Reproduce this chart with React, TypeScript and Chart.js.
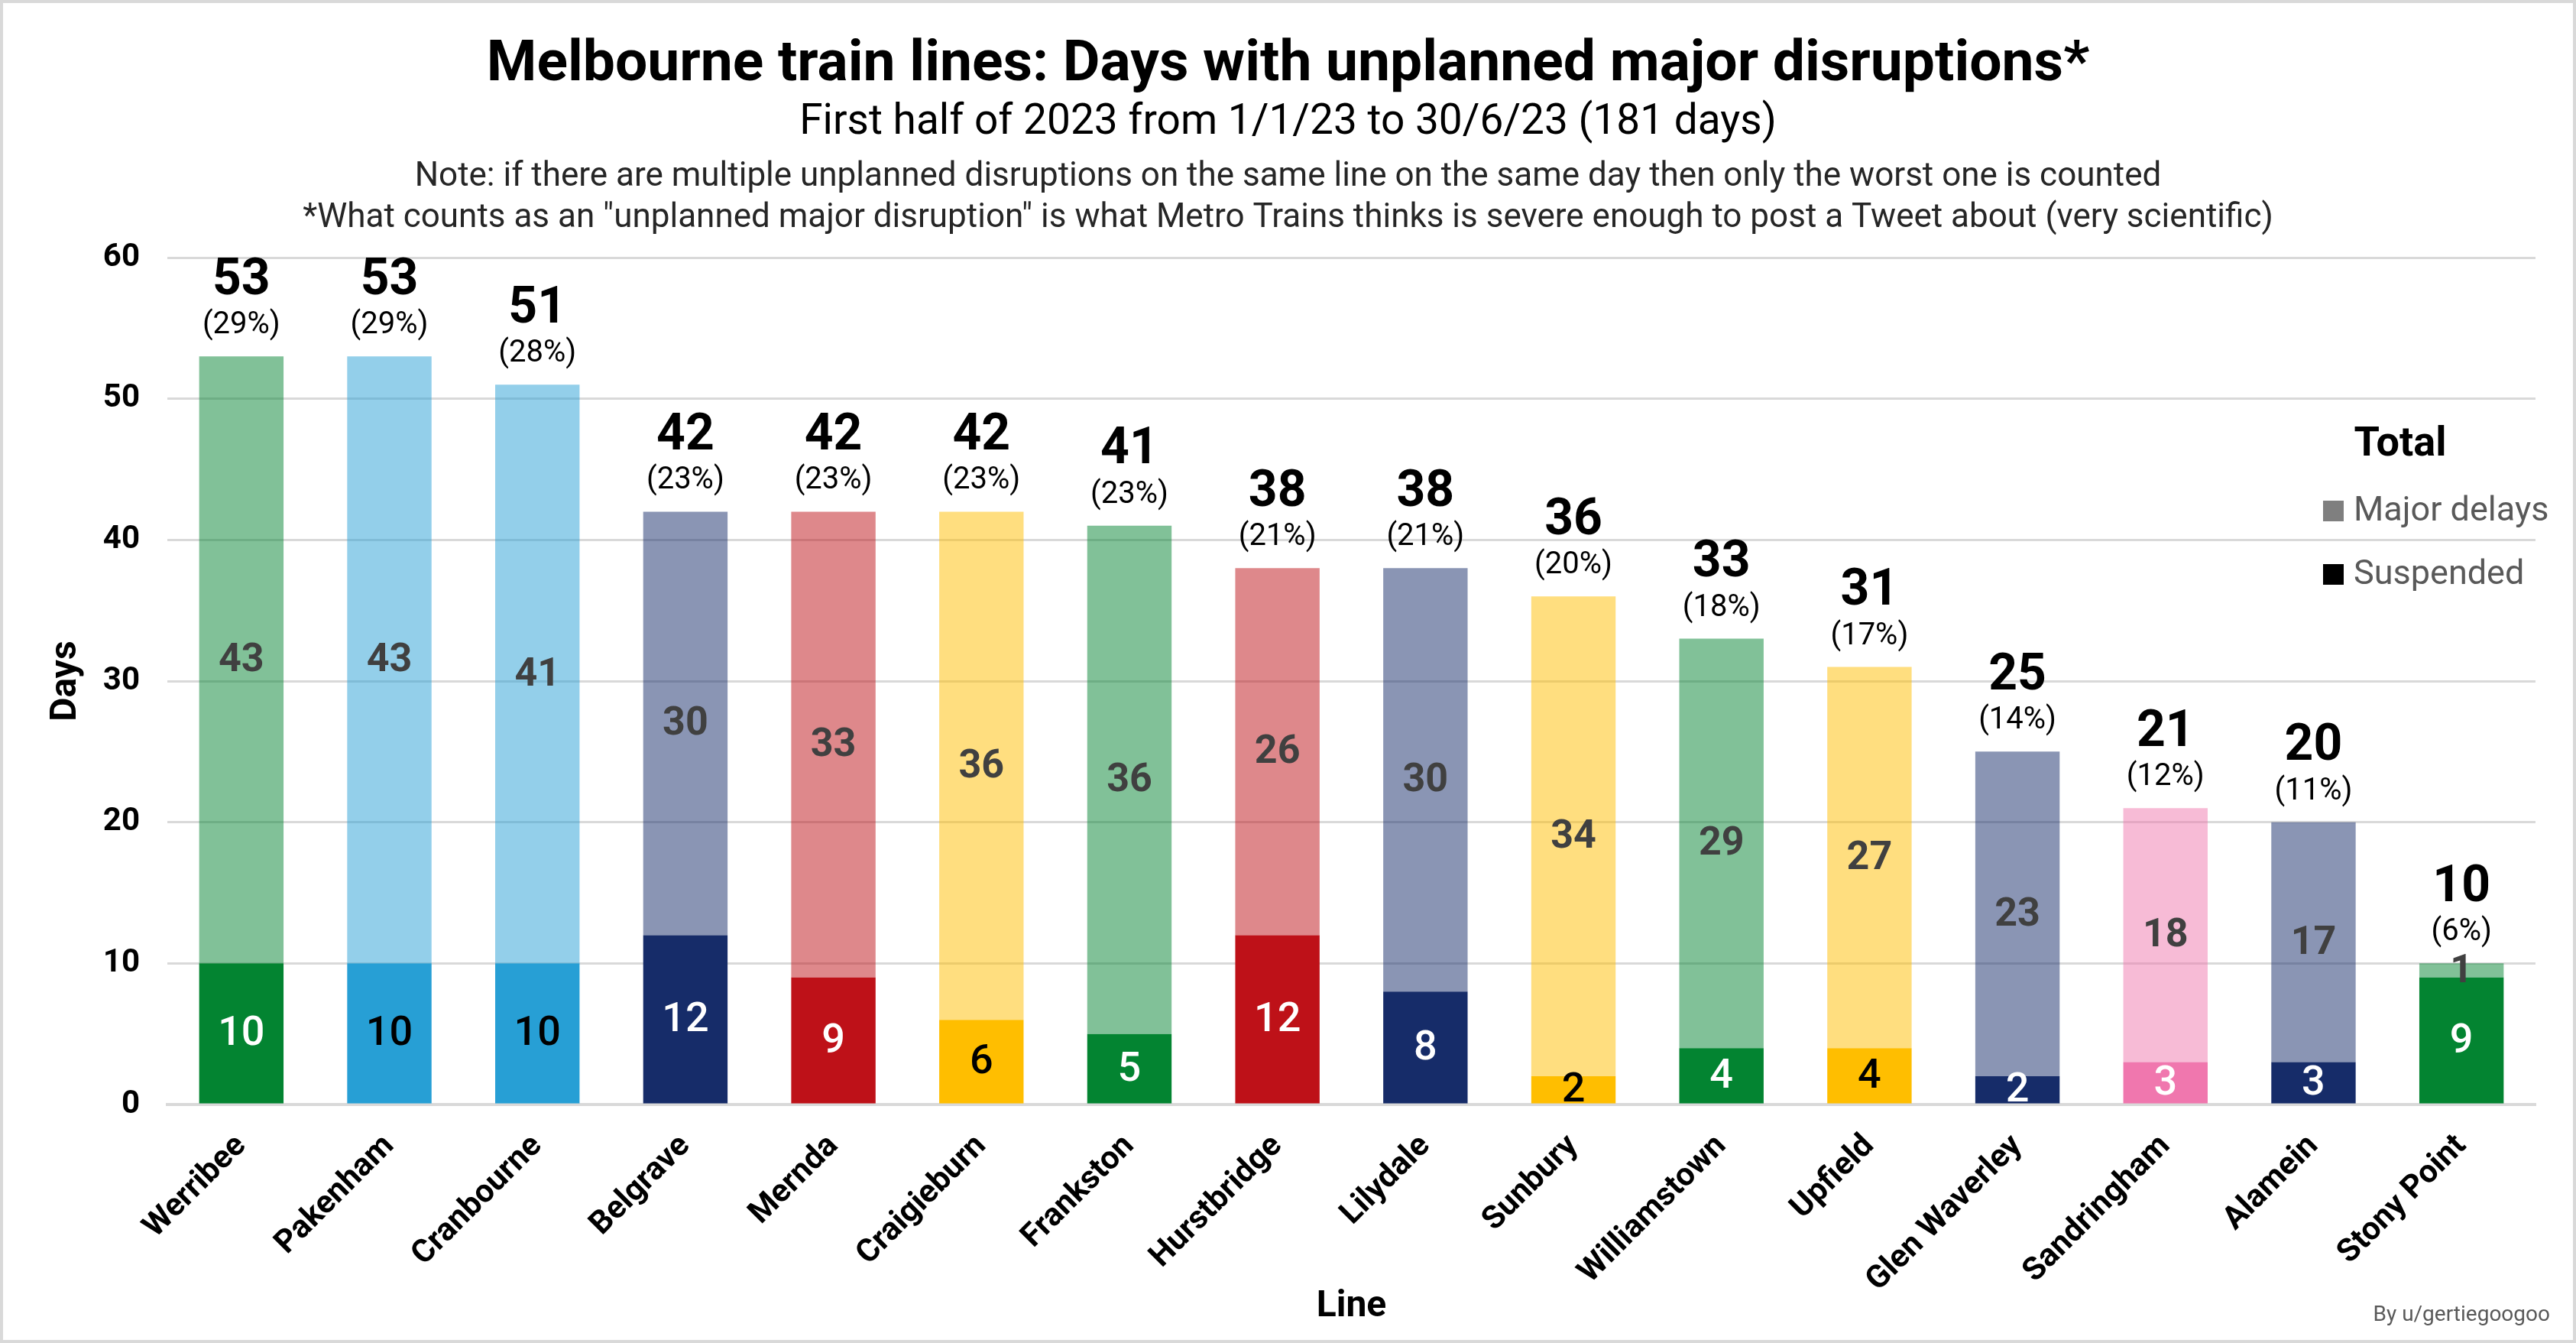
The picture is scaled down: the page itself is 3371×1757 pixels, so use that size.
import React, { useEffect, useRef } from "react";
import { Chart, registerables } from "chart.js";

Chart.register(...registerables);

// ---------- data ----------
const lines = [
  "Werribee", "Pakenham", "Cranbourne", "Belgrave", "Mernda", "Craigieburn",
  "Frankston", "Hurstbridge", "Lilydale", "Sunbury", "Williamstown", "Upfield",
  "Glen Waverley", "Sandringham", "Alamein", "Stony Point",
];
const suspended = [10, 10, 10, 12, 9, 6, 5, 12, 8, 2, 4, 4, 2, 3, 3, 9];
const majorDelays = [43, 43, 41, 30, 33, 36, 36, 26, 30, 34, 29, 27, 23, 18, 17, 1];
const totals = [53, 53, 51, 42, 42, 42, 41, 38, 38, 36, 33, 31, 25, 21, 20, 10];
const percentLabels = [
  "29%", "29%", "28%", "23%", "23%", "23%", "23%", "21%", "21%", "20%",
  "18%", "17%", "14%", "12%", "11%", "6%",
];
const lineGroups = [
  "green", "cyan", "cyan", "navy", "red", "yellow", "green", "red", "navy",
  "yellow", "green", "yellow", "navy", "pink", "navy", "green",
];
const yMax = 60;
const yStep = 10;

// ---------- styles ----------
const groupColor: Record<string, [number, number, number]> = {
  green: [3, 132, 49],
  cyan: [39, 159, 213],
  navy: [22, 44, 105],
  red: [190, 17, 24],
  yellow: [255, 190, 0],
  pink: [240, 119, 174],
};
const groupText: Record<string, string> = {
  green: "#ffffff",
  cyan: "#000000",
  navy: "#ffffff",
  red: "#ffffff",
  yellow: "#000000",
  pink: "#ffffff",
};
const rgba = (c: [number, number, number], a: number) => `rgba(${c[0]},${c[1]},${c[2]},${a})`;
const darkColors = lineGroups.map((g) => rgba(groupColor[g], 1));
const lightColors = lineGroups.map((g) => rgba(groupColor[g], 0.5));
const suspendedTextColors = lineGroups.map((g) => groupText[g]);

const FONT = "Roboto, 'Noto Sans', sans-serif";
const W = 3371;
const H = 1757;

const decorPlugin = {
  id: "decor",
  beforeDraw(chart: any) {
    const ctx = chart.ctx;
    ctx.save();
    ctx.fillStyle = "#ffffff";
    ctx.fillRect(0, 0, W, H);
    ctx.restore();
  },
  afterDraw(chart: any) {
    const ctx = chart.ctx;
    ctx.save();
    // frame
    ctx.strokeStyle = "#d9d9d9";
    ctx.lineWidth = 4;
    ctx.strokeRect(2, 2, W - 4, H - 4);

    ctx.textAlign = "center";
    ctx.textBaseline = "middle";
    ctx.fillStyle = "#000000";
    ctx.font = `bold 75px ${FONT}`;
    ctx.fillText("Melbourne train lines: Days with unplanned major disruptions*", W / 2, 86);
    ctx.font = `55px ${FONT}`;
    ctx.fillText("First half of 2023 from 1/1/23 to 30/6/23 (181 days)", W / 2, 161);
    ctx.fillStyle = "#262626";
    ctx.font = `44px ${FONT}`;
    ctx.fillText(
      "Note: if there are multiple unplanned disruptions on the same line on the same day then only the worst one is counted",
      W / 2, 232);
    ctx.fillText(
      '*What counts as an "unplanned major disruption" is what Metro Trains thinks is severe enough to post a Tweet about (very scientific)',
      W / 2, 286);

    // legend
    ctx.fillStyle = "#000000";
    ctx.font = `bold 54px ${FONT}`;
    ctx.fillText("Total", 3141, 582);
    ctx.textAlign = "left";
    ctx.font = `45px ${FONT}`;
    ctx.fillStyle = "#7f7f7f";
    ctx.fillRect(3040, 655, 27, 27);
    ctx.fillStyle = "#595959";
    ctx.fillText("Major delays", 3080, 670);
    ctx.fillStyle = "#000000";
    ctx.fillRect(3040, 738, 27, 27);
    ctx.fillStyle = "#595959";
    ctx.fillText("Suspended", 3080, 753);

    // credit
    ctx.textAlign = "right";
    ctx.font = `28px ${FONT}`;
    ctx.fillStyle = "#595959";
    ctx.fillText("By u/gertiegoogoo", 3337, 1721);
    ctx.restore();
  },
};

const labelPlugin = {
  id: "barLabels",
  afterDatasetsDraw(chart: any) {
    const ctx = chart.ctx;
    const m0 = chart.getDatasetMeta(0);
    const m1 = chart.getDatasetMeta(1);
    ctx.save();
    ctx.textAlign = "center";
    ctx.textBaseline = "middle";
    m0.data.forEach((bar: any, i: number) => {
      const { x, y, base } = bar.getProps(["x", "y", "base"], true);
      ctx.font = `500 54px ${FONT}`;
      ctx.fillStyle = suspendedTextColors[i];
      ctx.fillText(String(suspended[i]), x, (y + base) / 2 + 2);
    });
    m1.data.forEach((bar: any, i: number) => {
      const { x, y, base } = bar.getProps(["x", "y", "base"], true);
      ctx.font = `bold 52px ${FONT}`;
      ctx.fillStyle = "#404040";
      ctx.fillText(String(majorDelays[i]), x, (y + base) / 2 + 2);
      ctx.fillStyle = "#000000";
      ctx.font = `bold 66px ${FONT}`;
      ctx.fillText(String(totals[i]), x, y - 98);
      ctx.font = `40px ${FONT}`;
      ctx.fillText(`(${percentLabels[i]})`, x, y - 40);
    });
    ctx.restore();
  },
};

export default function App() {
  const ref = useRef<HTMLCanvasElement | null>(null);
  useEffect(() => {
    if (!ref.current) return;
    const chart = new Chart(ref.current, {
      type: "bar",
      data: {
        labels: lines,
        datasets: [
          {
            label: "Suspended",
            data: suspended,
            backgroundColor: darkColors,
            borderWidth: 0,
            barPercentage: 0.57,
            categoryPercentage: 1,
          },
          {
            label: "Major delays",
            data: majorDelays,
            backgroundColor: lightColors,
            borderWidth: 0,
            barPercentage: 0.57,
            categoryPercentage: 1,
          },
        ],
      },
      plugins: [decorPlugin, labelPlugin],
      options: {
        responsive: false,
        animation: false,
        devicePixelRatio: 1,
        layout: { padding: { top: 337, left: 46, right: 53, bottom: 14 } },
        plugins: {
          legend: { display: false },
          tooltip: { enabled: false },
          title: { display: false },
        },
        scales: {
          x: {
            stacked: true,
            grid: { display: false, drawTicks: false },
            border: { display: true, color: "#d9d9d9", width: 4 },
            ticks: {
              color: "#000000",
              font: { family: FONT, weight: "bold", size: 42 },
              maxRotation: 45,
              minRotation: 45,
              padding: 30,
              autoSkip: false,
            },
            title: {
              display: true,
              text: "Line",
              color: "#000000",
              font: { family: FONT, weight: "bold", size: 48 },
              padding: { top: 4, bottom: 4 },
            },
            afterFit: (s: any) => {
              s.height = H - 14 - 1445;
            },
          },
          y: {
            stacked: true,
            min: 0,
            max: yMax,
            ticks: {
              stepSize: yStep,
              color: "#000000",
              font: { family: FONT, weight: "bold", size: 42 },
              padding: 36,
            },
            grid: { color: "#d9d9d9", lineWidth: 3, drawTicks: false },
            border: { display: false },
            title: {
              display: true,
              text: "Days",
              color: "#000000",
              font: { family: FONT, weight: "bold", size: 48 },
              padding: { top: 12, bottom: 4 },
            },
            afterFit: (s: any) => {
              s.width = 219 - 46;
            },
          },
        },
      },
    } as any);
    return () => chart.destroy();
  }, []);
  return (
    <div style={{ position: "fixed", left: 0, top: 0, width: W, height: H, background: "#fff" }}>
      <canvas ref={ref} width={W} height={H} style={{ display: "block", width: W, height: H }} />
    </div>
  );
}
